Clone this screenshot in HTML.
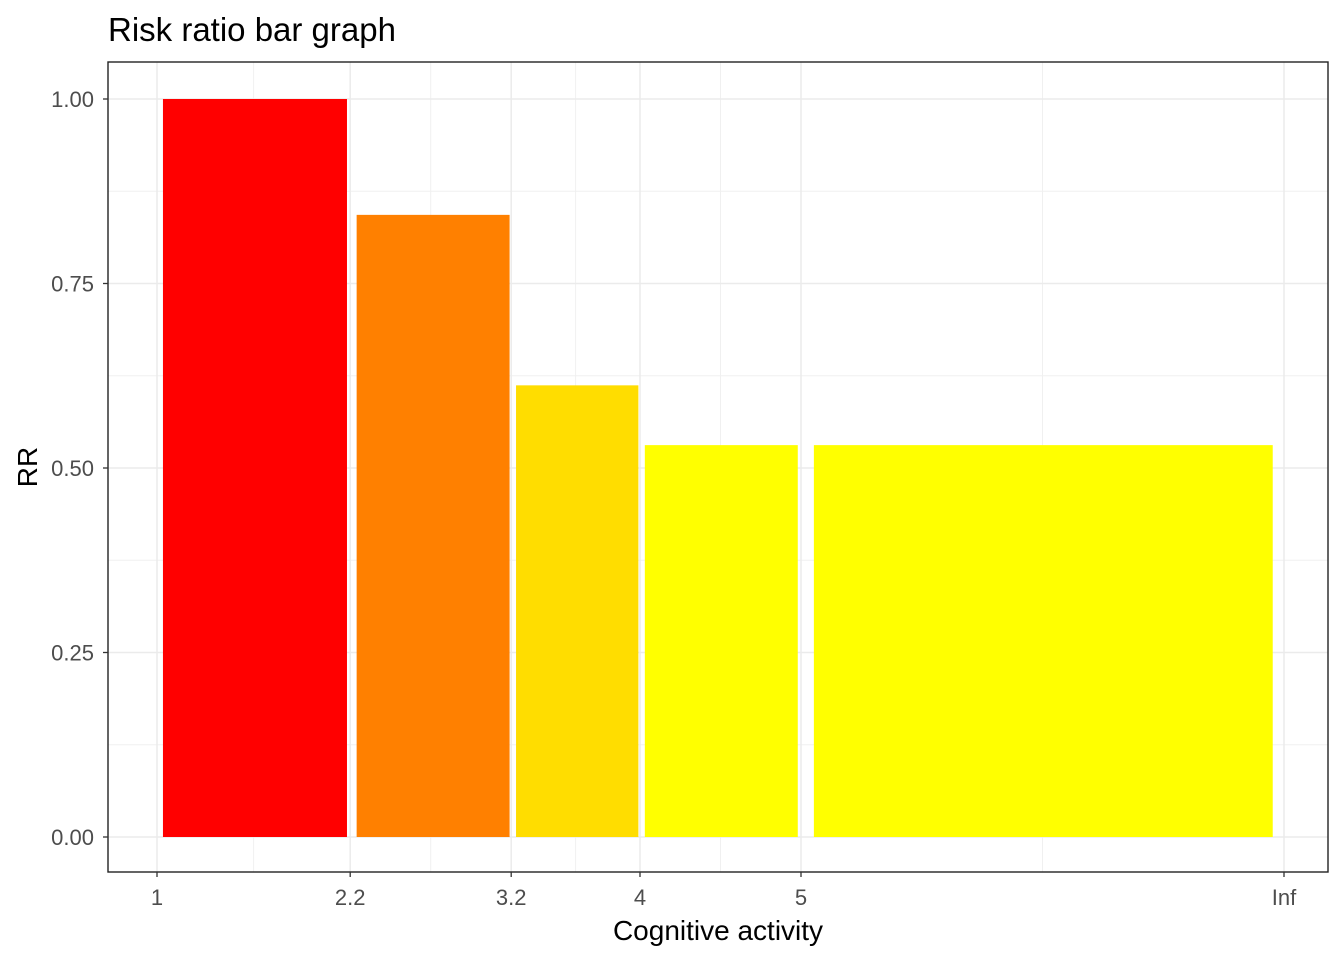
<!DOCTYPE html>
<html><head><meta charset="utf-8"><style>
body{margin:0;background:#fff;font-family:"Liberation Sans",sans-serif}
</style></head><body>
<svg id="chart" width="1344" height="960" xmlns="http://www.w3.org/2000/svg">
<text x="108" y="41" font-size="33" fill="#000">Risk ratio bar graph</text>
<g id="grid"></g><g id="bars"></g><g id="axes"></g>
<text x="718" y="940" font-size="28" text-anchor="middle" fill="#000">Cognitive activity</text>
<text transform="translate(37,467) rotate(-90)" font-size="28" text-anchor="middle" fill="#000">RR</text>
</svg>
<script>
const xTickValues=[1,2.2,3.2,4,5,8];
const xTickLabels=["1","2.2","3.2","4","5","Inf"];
const xMinorValues=[1.6,2.7,3.6,4.5,6.5];
const yTickValues=[0,0.25,0.5,0.75,1];
const yTickLabels=["0.00","0.25","0.50","0.75","1.00"];
const yMinorValues=[0.125,0.375,0.625,0.875];
const barXmin=[1.037,2.24,3.23,4.03,5.08];
const barXmax=[2.18,3.19,3.99,4.98,7.93];
const barRR=[1.0,0.843,0.612,0.531,0.531];
const barColors=["#FF0000","#FF8000","#FFDD00","#FFFF00","#FFFF00"];
const NS="http://www.w3.org/2000/svg";
const L=108,R=1328,T=62,B=872;
const xs=v=>157+(v-1)*161;
const ys=v=>837-v*738;
function mk(tag,attrs,parent){const e=document.createElementNS(NS,tag);for(const k in attrs)e.setAttribute(k,attrs[k]);document.getElementById(parent).appendChild(e);return e;}
yMinorValues.forEach(v=>{const e=mk('line',{x1:L,x2:R,y1:ys(v),y2:ys(v),stroke:'#f0f0f0','stroke-width':1},'grid');

});
xMinorValues.forEach(v=>{const e=mk('line',{x1:xs(v),x2:xs(v),y1:T,y2:B,stroke:'#f0f0f0','stroke-width':1},'grid');

});
yTickValues.forEach(v=>{const e=mk('line',{x1:L,x2:R,y1:ys(v),y2:ys(v),stroke:'#ebebeb','stroke-width':1.5},'grid');

});
xTickValues.forEach(v=>{const e=mk('line',{x1:xs(v),x2:xs(v),y1:T,y2:B,stroke:'#ebebeb','stroke-width':1.5},'grid');

});
barRR.forEach((v,i)=>{const e=mk('rect',{x:xs(barXmin[i]),y:ys(v),width:xs(barXmax[i])-xs(barXmin[i]),height:ys(0)-ys(v),fill:barColors[i]},'bars');

});
const fr=mk('rect',{x:L,y:T,width:R-L,height:B-T,fill:'none',stroke:'#222','stroke-width':1.4},'axes');


yTickValues.forEach((v,i)=>{const t=mk('line',{x1:L-5,x2:L,y1:ys(v),y2:ys(v),stroke:'#333','stroke-width':1.3},'axes');


const e=mk('text',{x:L-14,y:ys(v)+8,'font-size':22,'text-anchor':'end',fill:'#4d4d4d'},'axes');e.textContent=yTickLabels[i];

});
xTickValues.forEach((v,i)=>{const t=mk('line',{x1:xs(v),x2:xs(v),y1:B,y2:B+5,stroke:'#333','stroke-width':1.3},'axes');


const e=mk('text',{x:xs(v),y:B+33,'font-size':22,'text-anchor':'middle',fill:'#4d4d4d'},'axes');e.textContent=xTickLabels[i];

});
</script>
</body></html>
